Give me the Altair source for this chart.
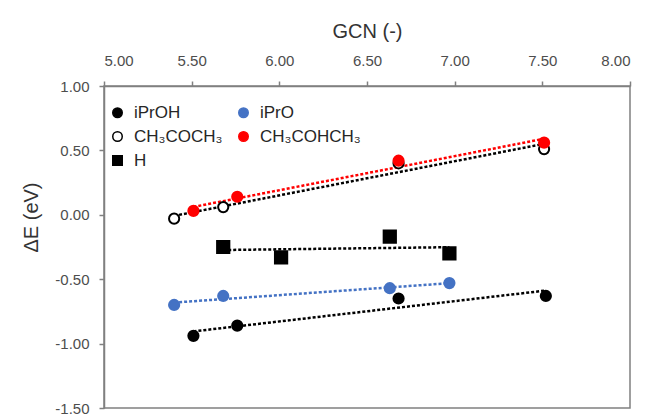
import altair as alt
import pandas as pd

# ---- data ----
series_names = ["iPrOH", "iPrO", "CH₃COCH₃", "CH₃COHCH₃", "H"]
# legend entry order (legend fills column by column: 3 rows x 2 columns)
legend_order = ["iPrOH", "CH₃COCH₃", "H", "iPrO", "CH₃COHCH₃"]

iproh_gcn = [5.51, 5.76, 6.68, 7.52]
iproh_de = [-0.94, -0.86, -0.65, -0.63]

ipro_gcn = [5.40, 5.68, 6.63, 6.97]
ipro_de = [-0.70, -0.63, -0.57, -0.53]

acetone_gcn = [5.40, 5.68, 6.68, 7.51]
acetone_de = [-0.03, 0.06, 0.40, 0.51]

ch3cohch3_gcn = [5.51, 5.76, 6.68, 7.51]
ch3cohch3_de = [0.03, 0.14, 0.42, 0.56]

h_gcn = [5.68, 6.01, 6.63, 6.97]
h_de = [-0.25, -0.33, -0.17, -0.30]

x_ticks = [5.0, 5.5, 6.0, 6.5, 7.0, 7.5, 8.0]
y_ticks = [-1.5, -1.0, -0.5, 0.0, 0.5, 1.0]

# ---- styles (per series name) ----
BLACK = "#000000"
BLUE = "#4472C4"
RED = "#FF0000"
fill_map = {"iPrOH": BLACK, "iPrO": BLUE, "CH₃COCH₃": "#FFFFFF", "CH₃COHCH₃": RED, "H": BLACK}
stroke_map = {"iPrOH": BLACK, "iPrO": BLUE, "CH₃COCH₃": BLACK, "CH₃COHCH₃": RED, "H": BLACK}
shape_map = {"iPrOH": "circle", "iPrO": "circle", "CH₃COCH₃": "circle", "CH₃COHCH₃": "circle", "H": "square"}

fill_range = [fill_map[s] for s in legend_order]
stroke_range = [stroke_map[s] for s in legend_order]
shape_range = [shape_map[s] for s in legend_order]
line_range = [stroke_map[s] for s in series_names]

rows = []
for i, (name, xs, ys) in enumerate(zip(
    series_names,
    [iproh_gcn, ipro_gcn, acetone_gcn, ch3cohch3_gcn, h_gcn],
    [iproh_de, ipro_de, acetone_de, ch3cohch3_de, h_de],
)):
    for xv, yv in zip(xs, ys):
        rows.append({"series": name, "trend": name, "gcn": xv, "de": yv, "order": i})
df = pd.DataFrame(rows)

FONT = "Liberation Sans"
label_expr = "replace(format(datum.value, '.2f'), '\u2212', '-')"

x_enc = alt.X(
    "gcn:Q",
    scale=alt.Scale(domain=[5, 8], nice=False, zero=False),
    axis=alt.Axis(
        orient="top",
        title="GCN (-)",
        values=x_ticks,
        labelExpr=label_expr,
        tickSize=5,
        labelPadding=13,
        titleY=-55,
        titleBaseline="middle",
    ),
)
y_enc = alt.Y(
    "de:Q",
    scale=alt.Scale(domain=[-1.5, 1.0], nice=False, zero=False),
    axis=alt.Axis(
        title="ΔE (eV)",
        values=y_ticks,
        labelExpr=label_expr,
        tickSize=5,
        labelPadding=10,
        titleX=-73,
        titleY=131,
        titleBaseline="middle",
    ),
)

legend = alt.Legend(
    title=None,
    orient="none",
    legendX=5,
    legendY=18,
    columns=2,
    columnPadding=12,
    rowPadding=6,
    labelFont=FONT,
    labelFontSize=17,
    labelColor="#262626",
    labelOffset=8,
    symbolSize=90,
    symbolStrokeWidth=1.5,
    padding=0,
)

shape_enc = alt.Shape(
    "series:N",
    scale=alt.Scale(domain=legend_order, range=shape_range),
    legend=legend,
)
fill_enc = alt.Fill(
    "series:N",
    scale=alt.Scale(domain=legend_order, range=fill_range),
    legend=legend,
)
stroke_enc = alt.Stroke(
    "series:N",
    scale=alt.Scale(domain=legend_order, range=stroke_range),
    legend=legend,
)

base = alt.Chart(df)

lines = base.transform_regression(
    "gcn", "de", groupby=["trend"], method="linear"
).mark_line(strokeDash=[3, 2], strokeWidth=2.5).encode(
    x=x_enc,
    y=y_enc,
    color=alt.Color(
        "trend:N",
        scale=alt.Scale(domain=series_names, range=line_range),
        legend=None,
    ),
)

circles = base.transform_filter(alt.datum.series != "H").mark_point(
    filled=False, opacity=1, strokeWidth=2, size=104
).encode(
    x=x_enc, y=y_enc, shape=shape_enc, fill=fill_enc, stroke=stroke_enc,
    order=alt.Order("order:Q"),
)

squares = base.transform_filter(alt.datum.series == "H").mark_point(
    filled=False, opacity=1, strokeWidth=2, size=150
).encode(
    x=x_enc, y=y_enc, shape=shape_enc, fill=fill_enc, stroke=stroke_enc,
)

chart = (
    alt.layer(lines, circles, squares)
    .resolve_scale(color="independent")
    .properties(
        width=526,
        height=322,
        padding={"left": 96, "top": 78, "right": 10, "bottom": 8},
        autosize=alt.AutoSizeParams(type="none"),
    )
    .configure_view(stroke="#808080", strokeWidth=1.5)
    .configure_axis(
        grid=False,
        labelFont=FONT,
        labelFontSize=15,
        labelColor="#4d4d4d",
        titleFont=FONT,
        titleFontSize=20,
        titleFontWeight="normal",
        titleColor="#333333",
        domainColor="#808080",
        domainWidth=1.5,
        tickColor="#808080",
        tickWidth=1.5,
    )
)

chart.save("out.html", embed_options={"renderer": "svg", "actions": False})
